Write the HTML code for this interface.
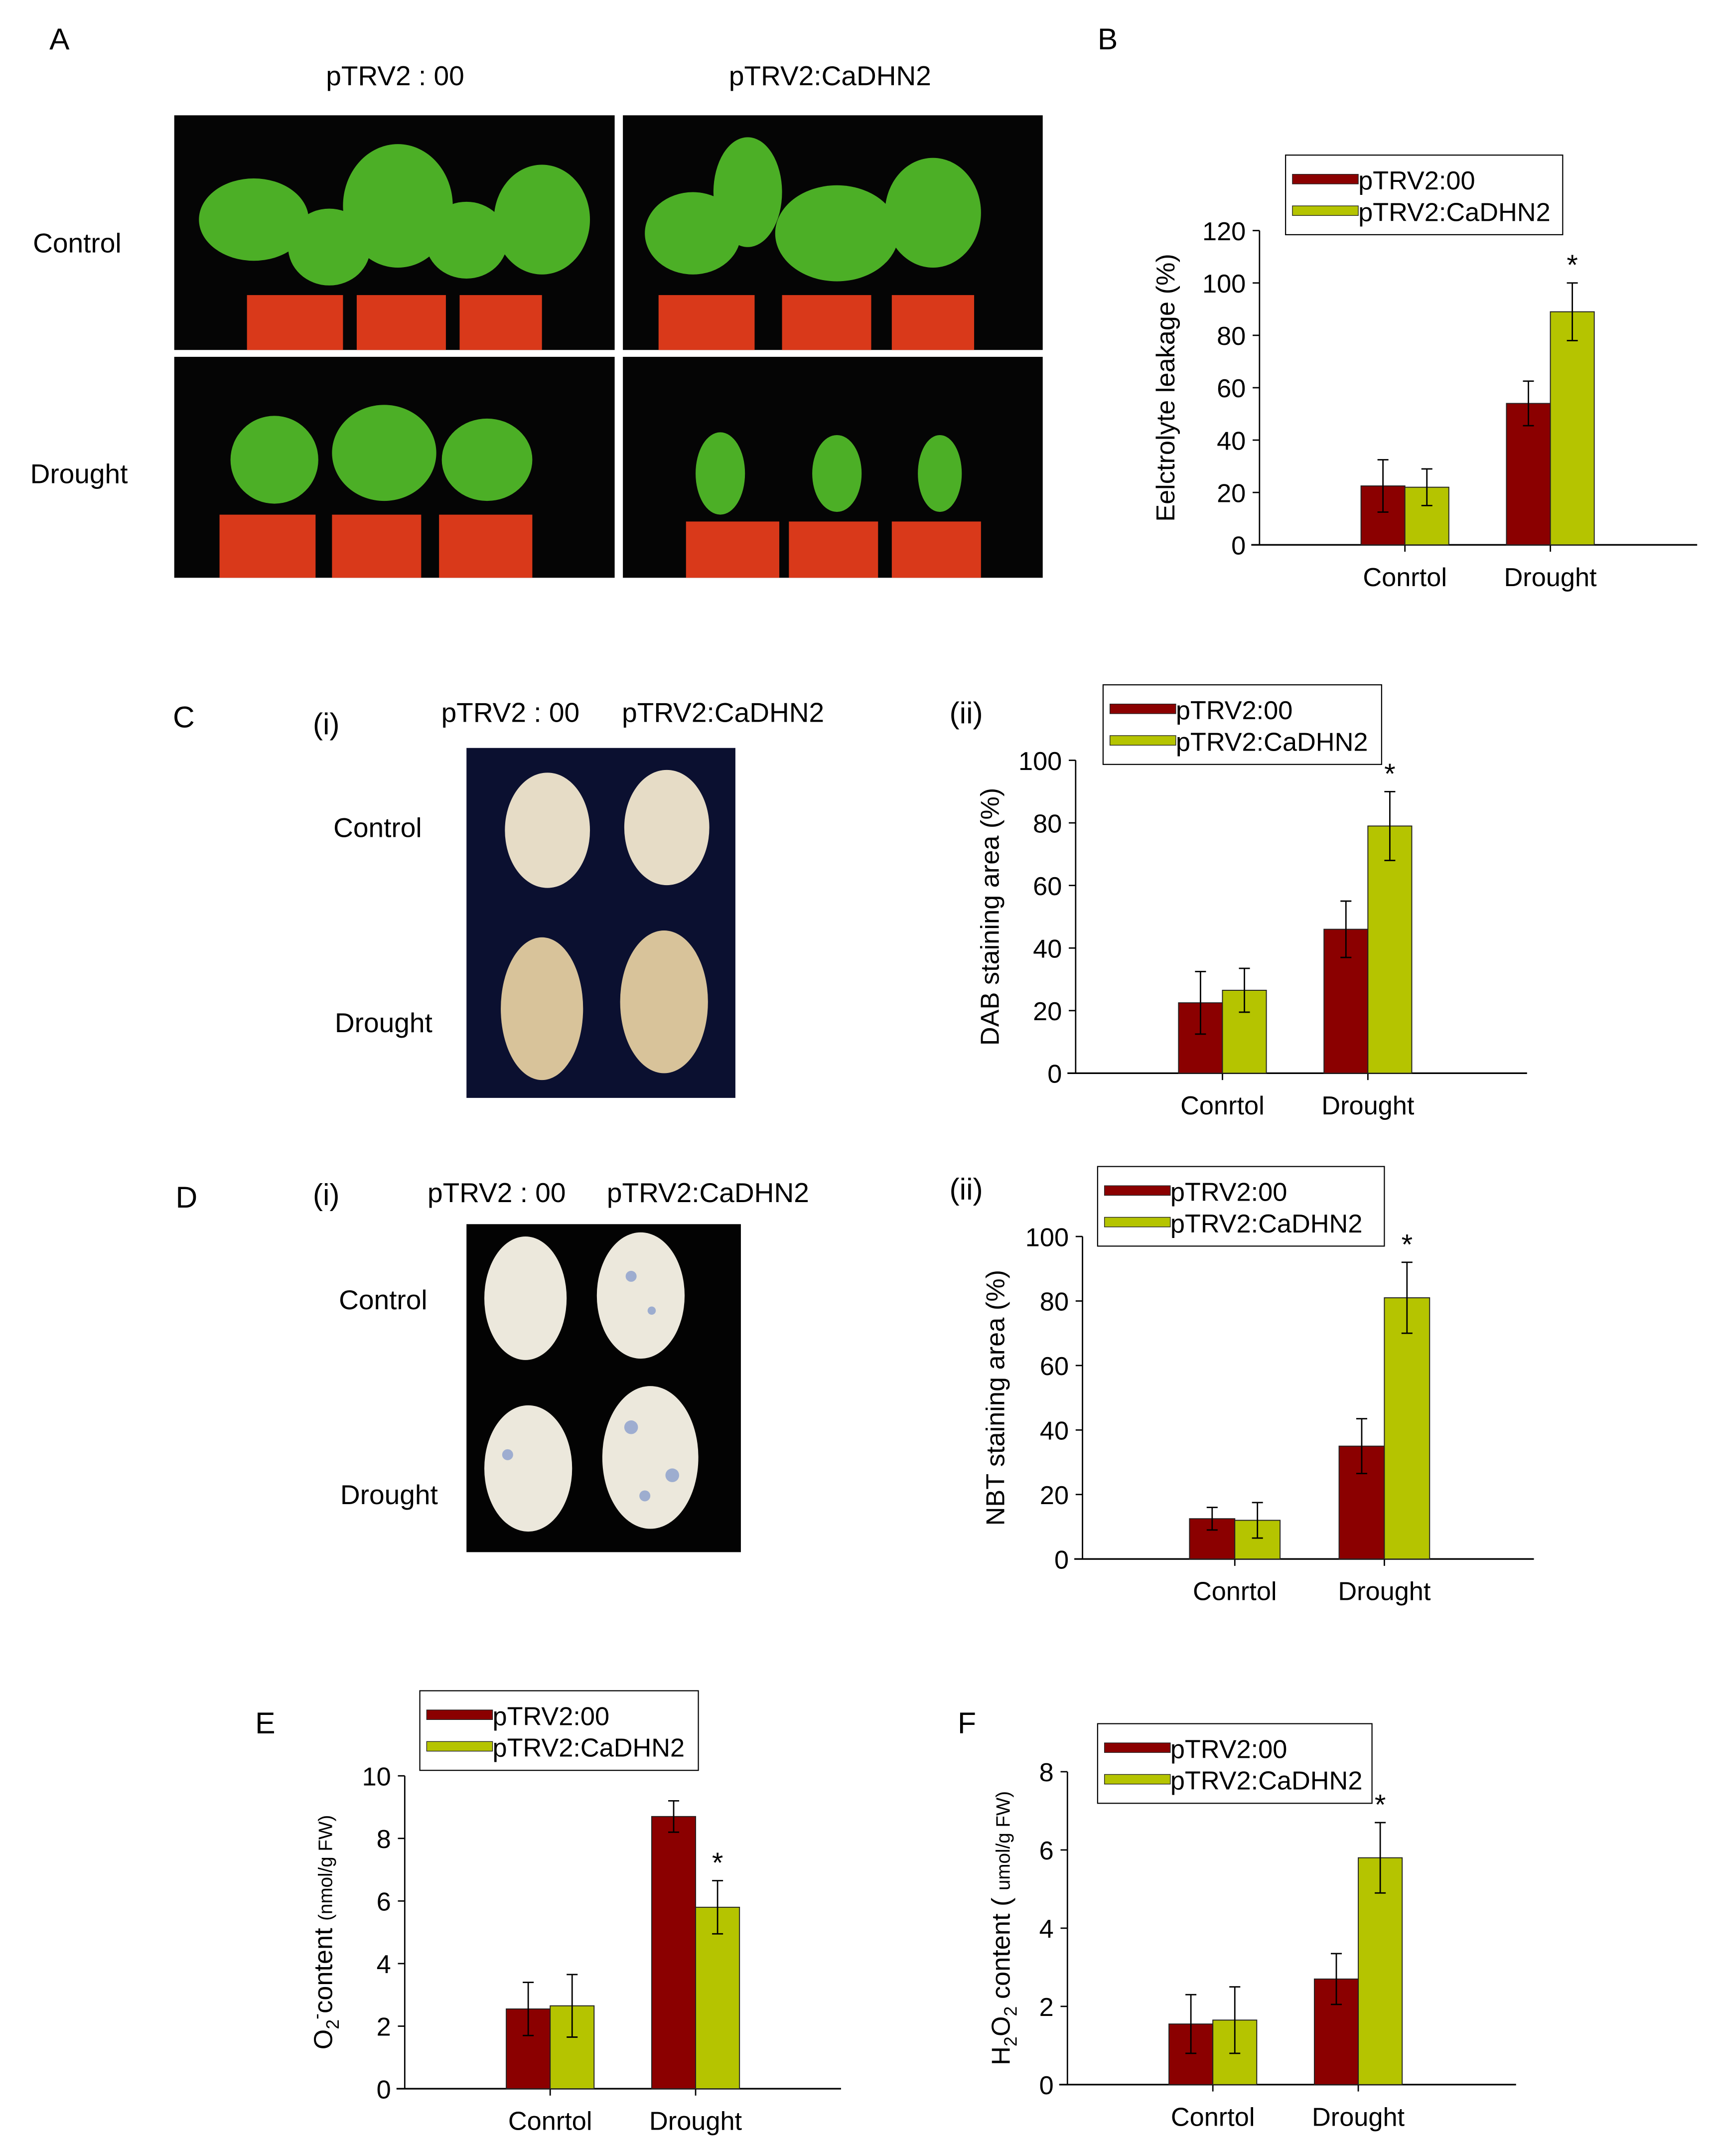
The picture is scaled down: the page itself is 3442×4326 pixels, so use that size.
<!DOCTYPE html>
<html><head><meta charset="utf-8"><style>
html,body{margin:0;padding:0;background:#fff}
svg{display:block}
text{font-family:"Liberation Sans",Arial,sans-serif;fill:#000}
</style></head><body>
<svg id="fig" xmlns="http://www.w3.org/2000/svg" width="3442" height="4326" viewBox="0 0 1250 1571">
<rect width="1250" height="1571" fill="#fff"/>
<!-- Panel A -->
<g>
<text x="36" y="36" font-size="22">A</text>
<text x="288" y="62" font-size="20" text-anchor="middle">pTRV2 : 00</text>
<text x="605" y="62" font-size="20" text-anchor="middle">pTRV2:CaDHN2</text>
<text x="24" y="184" font-size="20">Control</text>
<text x="22" y="352" font-size="20">Drought</text>
<rect x="127" y="84" width="321" height="171" fill="#050505"/>
<rect x="454" y="84" width="306" height="171" fill="#050505"/>
<rect x="127" y="260" width="321" height="161" fill="#050505"/>
<rect x="454" y="260" width="306" height="161" fill="#050505"/>
<g fill="#4caf26">
<ellipse cx="185" cy="160" rx="40" ry="30"/><ellipse cx="240" cy="180" rx="30" ry="28"/><ellipse cx="290" cy="150" rx="40" ry="45"/><ellipse cx="340" cy="175" rx="30" ry="28"/><ellipse cx="395" cy="160" rx="35" ry="40"/>
<ellipse cx="505" cy="170" rx="35" ry="30"/><ellipse cx="545" cy="140" rx="25" ry="40"/><ellipse cx="610" cy="170" rx="45" ry="35"/><ellipse cx="680" cy="155" rx="35" ry="40"/>
<ellipse cx="200" cy="335" rx="32" ry="32"/><ellipse cx="280" cy="330" rx="38" ry="35"/><ellipse cx="355" cy="335" rx="33" ry="30"/>
<ellipse cx="525" cy="345" rx="18" ry="30"/><ellipse cx="610" cy="345" rx="18" ry="28"/><ellipse cx="685" cy="345" rx="16" ry="28"/>
</g>
<g fill="#d9391a">
<rect x="180" y="215" width="70" height="40"/><rect x="260" y="215" width="65" height="40"/><rect x="335" y="215" width="60" height="40"/>
<rect x="480" y="215" width="70" height="40"/><rect x="570" y="215" width="65" height="40"/><rect x="650" y="215" width="60" height="40"/>
<rect x="160" y="375" width="70" height="46"/><rect x="242" y="375" width="65" height="46"/><rect x="320" y="375" width="68" height="46"/>
<rect x="500" y="380" width="68" height="41"/><rect x="575" y="380" width="65" height="41"/><rect x="650" y="380" width="65" height="41"/>
</g>
</g>
<!-- Panel C photo -->
<g>
<text x="126" y="530" font-size="22">C</text>
<text x="228" y="535" font-size="22" font-family="Liberation Serif">(i)</text>
<text x="372" y="526" font-size="20" text-anchor="middle">pTRV2 : 00</text>
<text x="527" y="526" font-size="20" text-anchor="middle">pTRV2:CaDHN2</text>
<text x="243" y="610" font-size="20">Control</text>
<text x="244" y="752" font-size="20">Drought</text>
<rect x="340" y="545" width="196" height="255" fill="#0b1030"/>
<g fill="#e6dcc6"><ellipse cx="399" cy="605" rx="31" ry="42"/><ellipse cx="486" cy="603" rx="31" ry="42"/></g>
<g fill="#d8c39a"><ellipse cx="395" cy="735" rx="30" ry="52"/><ellipse cx="484" cy="730" rx="32" ry="52"/></g>
</g>
<!-- Panel D photo -->
<g>
<text x="128" y="880" font-size="22">D</text>
<text x="228" y="878" font-size="22" font-family="Liberation Serif">(i)</text>
<text x="362" y="876" font-size="20" text-anchor="middle">pTRV2 : 00</text>
<text x="516" y="876" font-size="20" text-anchor="middle">pTRV2:CaDHN2</text>
<text x="247" y="954" font-size="20">Control</text>
<text x="248" y="1096" font-size="20">Drought</text>
<rect x="340" y="892" width="200" height="239" fill="#030303"/>
<g fill="#ece8dc"><ellipse cx="383" cy="946" rx="30" ry="45"/><ellipse cx="467" cy="944" rx="32" ry="46"/>
<ellipse cx="385" cy="1070" rx="32" ry="46"/><ellipse cx="474" cy="1062" rx="35" ry="52"/></g>
<g fill="#6a86c8" opacity="0.6"><circle cx="460" cy="930" r="4"/><circle cx="475" cy="955" r="3"/><circle cx="370" cy="1060" r="4"/><circle cx="460" cy="1040" r="5"/><circle cx="490" cy="1075" r="5"/><circle cx="470" cy="1090" r="4"/></g>
</g>
<g id="charts"></g>
</svg>
<script>
// Panel B data
const bCategories = ["Conrtol", "Drought"];
const bSeries1 = [22.5, 54];
const bSeries2 = [22, 89];
const bErr1 = [10, 8.5];
const bErr2 = [7, 11];
const bTicks = [0, 20, 40, 60, 80, 100, 120];
// Panel C(ii) data
const cCategories = ["Conrtol", "Drought"];
const cSeries1 = [22.5, 46];
const cSeries2 = [26.5, 79];
const cErr1 = [10, 9];
const cErr2 = [7, 11];
const cTicks = [0, 20, 40, 60, 80, 100];
// Panel D(ii) data
const dCategories = ["Conrtol", "Drought"];
const dSeries1 = [12.5, 35];
const dSeries2 = [12, 81];
const dErr1 = [3.5, 8.5];
const dErr2 = [5.5, 11];
const dTicks = [0, 20, 40, 60, 80, 100];
// Panel E data
const eCategories = ["Conrtol", "Drought"];
const eSeries1 = [2.55, 8.7];
const eSeries2 = [2.65, 5.8];
const eErr1 = [0.85, 0.5];
const eErr2 = [1.0, 0.85];
const eTicks = [0, 2, 4, 6, 8, 10];
// Panel F data
const fCategories = ["Conrtol", "Drought"];
const fSeries1 = [1.55, 2.7];
const fSeries2 = [1.65, 5.8];
const fErr1 = [0.75, 0.65];
const fErr2 = [0.85, 0.9];
const fTicks = [0, 2, 4, 6, 8];

const NS = "http://www.w3.org/2000/svg";
const root = document.getElementById("charts");
function mk(tag, attrs, parent, txt) {
  const e = document.createElementNS(NS, tag);
  for (const k in attrs) e.setAttribute(k, attrs[k]);
  if (txt !== undefined) e.textContent = txt;
  parent.appendChild(e);
  return e;
}
function chart(o) {
  const g = mk("g", {}, root);
  
  
  const max = o.ticks[o.ticks.length - 1];
  const y = v => o.y0 - (v / max) * (o.y0 - o.yTop);
  const gap = o.groupX;
  const bw = o.bw;
  const ya = mk("line", {x1: o.x0, y1: o.yTop, x2: o.x0, y2: o.y0, stroke: "#000", "stroke-width": 1}, g);
  
  
  const xa = mk("line", {x1: o.x0 - 6, y1: o.y0, x2: o.xEnd, y2: o.y0, stroke: "#000", "stroke-width": 1.2}, g);
  
  
  o.ticks.forEach(t => {
    mk("line", {x1: o.x0 - 5, y1: y(t), x2: o.x0, y2: y(t), stroke: "#000"}, g);
    const tl = mk("text", {x: o.x0 - 10, y: y(t) + 7, "font-size": 19, "text-anchor": "end"}, g, t);
    
    
  });
  o.cats.forEach((c, i) => {
    const cx = gap[i];
    mk("line", {x1: cx, y1: o.y0, x2: cx, y2: o.y0 + 5, stroke: "#000"}, g);
    const cl = mk("text", {x: cx, y: o.y0 + 30, "font-size": 19, "text-anchor": "middle"}, g, c);
    
    
    [[o.s1, o.e1, "#8b0000", -bw], [o.s2, o.e2, "#b5c400", 0]].forEach(([s, e, col, off], k) => {
      const v = s[i];
      const r = mk("rect", {x: cx + off, y: y(v), width: bw, height: o.y0 - y(v), fill: col, stroke: "#222", "stroke-width": 0.7}, g);
      
      
      const ex = cx + off + bw / 2;
      const eb = mk("path", {d: `M${ex},${y(v + e[i])}V${y(v - e[i])}M${ex - 4},${y(v + e[i])}H${ex + 4}M${ex - 4},${y(v - e[i])}H${ex + 4}`, stroke: "#000", fill: "none", "stroke-width": 1}, g);
      
      
    });
  });
  const sx = gap[1] + bw / 2;
  const st = mk("text", {x: sx, y: y(o.s2[1] + o.e2[1]) - 6, "font-size": 21, "text-anchor": "middle"}, g, "*");
  
  
  const yt = mk("text", {x: 0, y: 0, "font-size": 19, "text-anchor": "middle", transform: `translate(${o.titleX},${(o.y0 + o.yTop) / 2}) rotate(-90)`}, g);
  yt.innerHTML = o.title;
  
  
  const L = o.legend;
  const lg = mk("g", {}, g);
  
  
  mk("rect", {x: L[0], y: L[1], width: L[2], height: 58, fill: "#fff", stroke: "#000", "stroke-width": 0.8}, lg);
  mk("rect", {x: L[0] + 5, y: L[1] + 14, width: 48, height: 7, fill: "#8b0000", stroke: "#222", "stroke-width": 0.5}, lg);
  mk("rect", {x: L[0] + 5, y: L[1] + 37, width: 48, height: 7, fill: "#b5c400", stroke: "#222", "stroke-width": 0.5}, lg);
  const l1 = mk("text", {x: L[0] + 53, y: L[1] + 25, "font-size": 19}, lg, "pTRV2:00");
  
  
  const l2 = mk("text", {x: L[0] + 53, y: L[1] + 48, "font-size": 19}, lg, "pTRV2:CaDHN2");
  
  
  if (o.label) { const pl = mk("text", {x: o.label[0], y: o.label[1], "font-size": o.label[3] || 22, "font-family": o.label[4] || "Liberation Sans"}, g, o.label[2]);   }
}
chart({name: "panel-b-electrolyte-chart", cats: bCategories, s1: bSeries1, s2: bSeries2, e1: bErr1, e2: bErr2, ticks: bTicks,
  x0: 918, xEnd: 1237, y0: 397, yTop: 168, groupX: [1024, 1130], bw: 32, titleX: 856,
  title: "Eelctrolyte leakage (%)", legend: [937, 113, 202], label: [800, 36, "B"]});
chart({name: "panel-c-dab-chart", cats: cCategories, s1: cSeries1, s2: cSeries2, e1: cErr1, e2: cErr2, ticks: cTicks,
  x0: 784, xEnd: 1113, y0: 782, yTop: 554, groupX: [891, 997], bw: 32, titleX: 728,
  title: "DAB staining area (%)", legend: [804, 499, 203], label: [692, 527, "(ii)", 22, "Liberation Serif"]});
chart({name: "panel-d-nbt-chart", cats: dCategories, s1: dSeries1, s2: dSeries2, e1: dErr1, e2: dErr2, ticks: dTicks,
  x0: 789, xEnd: 1118, y0: 1136, yTop: 901, groupX: [900, 1009], bw: 33, titleX: 732,
  title: "NBT staining area (%)", legend: [800, 850, 209], label: [692, 874, "(ii)", 22, "Liberation Serif"]});
chart({name: "panel-e-o2-chart", cats: eCategories, s1: eSeries1, s2: eSeries2, e1: eErr1, e2: eErr2, ticks: eTicks,
  x0: 295, xEnd: 613, y0: 1522, yTop: 1294, groupX: [401, 507], bw: 32, titleX: 242,
  title: "O<tspan font-size='13' dy='5'>2</tspan><tspan font-size='13' dy='-12'>-</tspan><tspan dy='7'>content </tspan><tspan font-size='14'>(nmol/g FW)</tspan>", legend: [306, 1232, 203], label: [186, 1263, "E"]});
chart({name: "panel-f-h2o2-chart", cats: fCategories, s1: fSeries1, s2: fSeries2, e1: fErr1, e2: fErr2, ticks: fTicks,
  x0: 778, xEnd: 1105, y0: 1519, yTop: 1291, groupX: [884, 990], bw: 32, titleX: 736,
  title: "H<tspan font-size='13' dy='5'>2</tspan><tspan dy='-5'>O</tspan><tspan font-size='13' dy='5'>2</tspan><tspan dy='-5'> content ( </tspan><tspan font-size='14'>umol/g FW)</tspan>", legend: [800, 1256, 200], label: [698, 1263, "F"]});
</script>
</body></html>
